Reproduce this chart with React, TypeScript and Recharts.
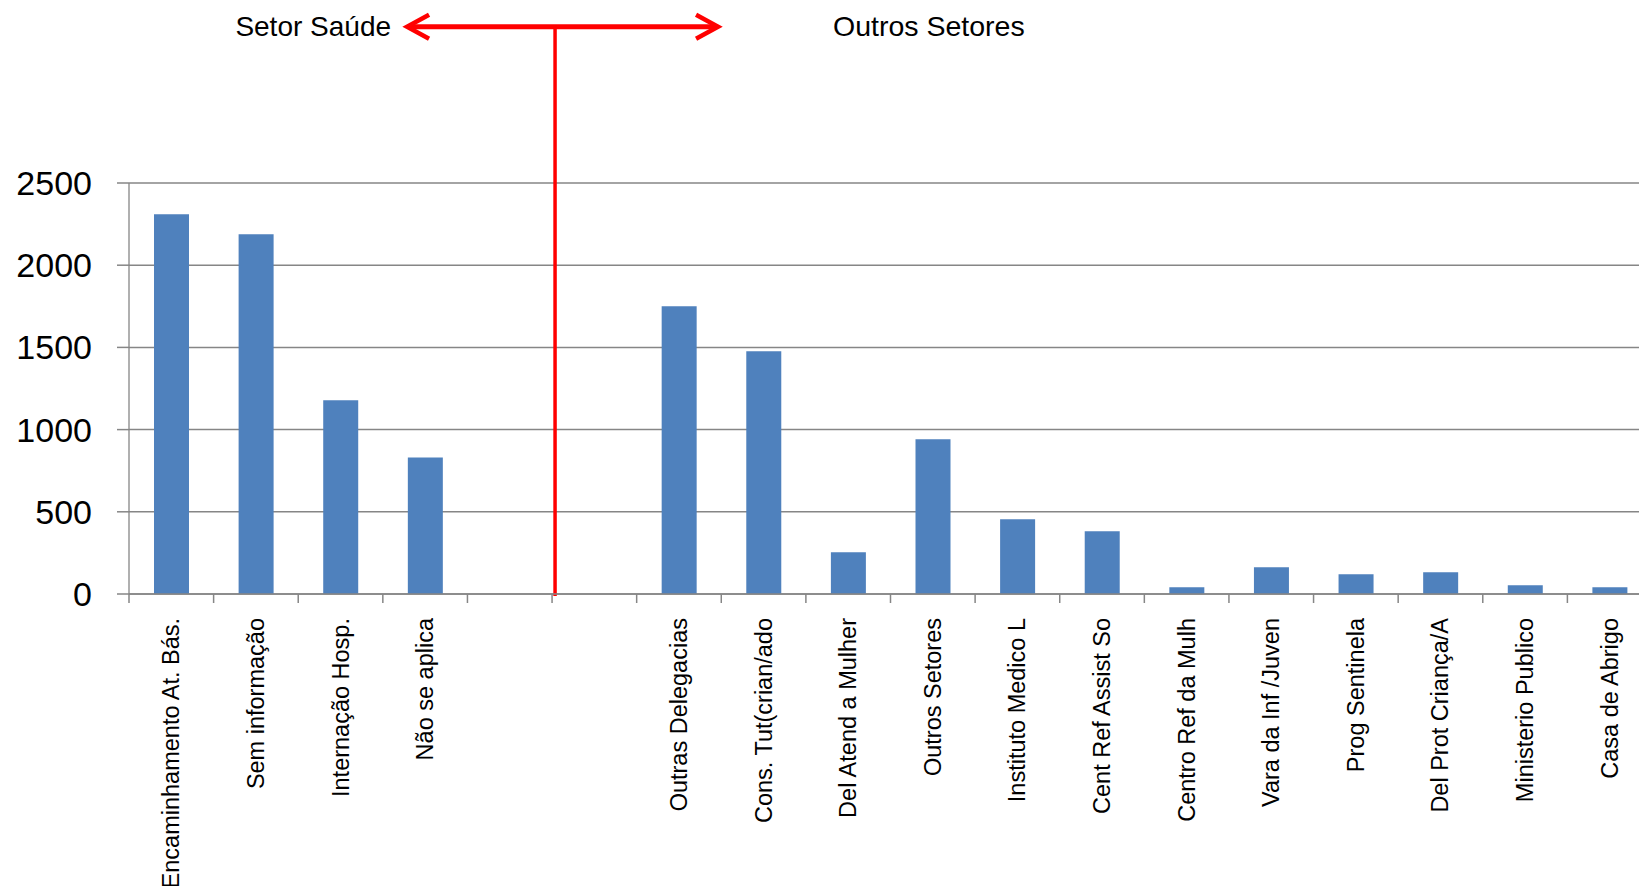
import React from 'react';
import { BarChart, Bar, XAxis, YAxis, CartesianGrid, ReferenceLine } from 'recharts';

const categoryIds = ['enc', 'sem', 'int', 'nao', 'gap1', 'gap2', 'outdel', 'cons', 'delat', 'outset', 'iml', 'cras', 'crm', 'vara', 'prog', 'delprot', 'mp', 'casa'];
const categoryLabels = [
  'Encaminhamento At. Bás.', 'Sem informação', 'Internação Hosp.', 'Não se aplica', '', '',
  'Outras Delegacias', 'Cons. Tut(crian/ado', 'Del Atend a Mulher', 'Outros Setores', 'Instituto Medico L',
  'Cent Ref Assist So', 'Centro Ref da Mulh', 'Vara da Inf /Juven', 'Prog Sentinela', 'Del Prot Criança/A',
  'Ministerio Publico', 'Casa de Abrigo',
];
const values: (number | null)[] = [2310, 2188, 1178, 831, null, null, 1750, 1476, 254, 941, 454, 381, 41, 162, 120, 132, 53, 41];
const yTicks = [0, 500, 1000, 1500, 2000, 2500];
const dividerCategory = 'gap2';
const leftSectorLabel = 'Setor Saúde';
const rightSectorLabel = 'Outros Setores';

const data = categoryIds.map((id, i) => ({ id, label: categoryLabels[i], value: values[i] }));

const CHART_W = 1652;
const CHART_H = 886;
const YAXIS_W = 129;
const FONT = "'Liberation Sans', Arial, sans-serif";
const GRID = '#868686';
const RED = '#FF0000';

const XTick = (props: any) => {
  const { x, y, payload, index } = props;
  const band = (CHART_W - YAXIS_W) / categoryIds.length;
  const off = payload && typeof payload.offset === 'number' && payload.offset > 0 ? payload.offset : band / 2;
  const label = categoryLabels[index] ?? '';
  return (
    <g>
      <line x1={x - off} y1={y} x2={x - off} y2={y + 9} stroke={GRID} strokeWidth={1.5} />
      {label ? (
        <text
          x={x}
          y={y + 24}
          transform={`rotate(-90, ${x}, ${y + 24})`}
          textAnchor="end"
          dominantBaseline="central"
          fontFamily={FONT}
          fontSize={23.5}
          fill="#000"
        >
          {label}
        </text>
      ) : null}
    </g>
  );
};

const Annotation = (p: any) => {
  const x = p.x1 + 3;
  const yTop = Math.min(p.y1, p.y2);
  const yBot = Math.max(p.y1, p.y2);
  const lt = x - 148;
  const rt = x + 163;
  return (
    <g>
      <line x1={x} y1={yTop} x2={x} y2={yBot} stroke={RED} strokeWidth={3.5} />
      <line x1={lt + 2} y1={yTop} x2={rt - 2} y2={yTop} stroke={RED} strokeWidth={5} />
      <polyline points={`${lt + 22},${yTop - 12} ${lt},${yTop} ${lt + 22},${yTop + 12}`} fill="none" stroke={RED} strokeWidth={4.5} />
      <polyline points={`${rt - 22},${yTop - 12} ${rt},${yTop} ${rt - 22},${yTop + 12}`} fill="none" stroke={RED} strokeWidth={4.5} />
      <text x={x - 164} y={yTop + 9.5} textAnchor="end" fontFamily={FONT} fontSize={28} fill="#000">{leftSectorLabel}</text>
      <text x={x + 278} y={yTop + 9.5} textAnchor="start" fontFamily={FONT} fontSize={28.5} fill="#000">{rightSectorLabel}</text>
    </g>
  );
};

export default function App() {
  return (
    <div style={{ position: 'absolute', left: 0, top: 0, width: 1639, height: 886, overflow: 'hidden', background: '#fff' }}>
      <BarChart
        width={CHART_W}
        height={CHART_H}
        data={data}
        margin={{ top: 183, right: 0, bottom: 0, left: 0 }}
        barCategoryGap={0}
      >
        <CartesianGrid horizontal vertical={false} stroke={GRID} strokeWidth={1.5} />
        <XAxis
          dataKey="id"
          interval={0}
          height={292}
          tickSize={0}
          tickMargin={0}
          tickLine={false}
          axisLine={{ stroke: GRID, strokeWidth: 1.5 }}
          tick={<XTick />}
        />
        <YAxis
          width={YAXIS_W}
          domain={[0, 2500]}
          ticks={yTicks}
          interval={0}
          tickSize={12}
          tickMargin={25}
          axisLine={{ stroke: GRID, strokeWidth: 1.3 }}
          tickLine={{ stroke: GRID, strokeWidth: 1.5 }}
          tick={{ fontFamily: FONT, fontSize: 34, fill: '#000' }}
        />
        <Bar dataKey="value" fill="#4F81BD" barSize={35} isAnimationActive={false} />
        <ReferenceLine
          segment={[{ x: dividerCategory, y: -12 }, { x: dividerCategory, y: 3450 }]}
          position="start"
          ifOverflow="visible"
          stroke={RED}
          shape={Annotation}
        />
      </BarChart>
    </div>
  );
}
